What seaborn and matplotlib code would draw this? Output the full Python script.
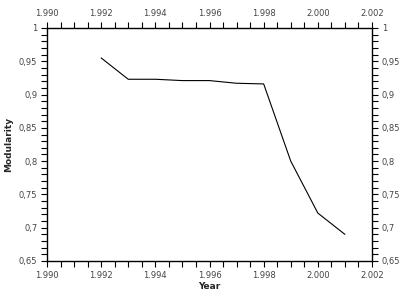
import matplotlib
matplotlib.use("Agg")
import matplotlib.pyplot as plt
import seaborn as sns
import pandas as pd
from matplotlib.ticker import MultipleLocator, FuncFormatter

years = [1992, 1993, 1994, 1995, 1996, 1997, 1998, 1999, 2000, 2001]
modularity = [0.955, 0.923, 0.923, 0.921, 0.921, 0.917, 0.916, 0.800, 0.722, 0.690]

df = pd.DataFrame({"Year": years, "Modularity": modularity})

sns.set_style("ticks")
plt.rcParams['font.family'] = ['DejaVu Sans']

fig = plt.figure(figsize=(4.04, 2.98), dpi=100)
ax = fig.add_axes([47/404, 1-261/298, (372-47)/404, (261-28)/298])
sns.lineplot(data=df, x="Year", y="Modularity", ax=ax, color="black", linewidth=0.8)

ax.set_xlim(1990, 2002)
ax.set_ylim(0.65, 1.0)
ax.xaxis.set_major_locator(MultipleLocator(2))
ax.xaxis.set_minor_locator(MultipleLocator(0.5))
ax.yaxis.set_major_locator(MultipleLocator(0.05))
ax.yaxis.set_minor_locator(MultipleLocator(0.01))
ax.xaxis.set_major_formatter(FuncFormatter(lambda v, p: f"{int(round(v)):,}".replace(",", ".")))
ax.yaxis.set_major_formatter(FuncFormatter(lambda v, p: f"{round(v, 3):g}".replace(".", ",")))

ax.tick_params(which="both", top=True, right=True, labeltop=True, labelright=True,
               direction="out", labelsize=6, labelcolor="#444444", width=0.8, color="black", pad=2.5)
ax.tick_params(which="major", length=4.5)
ax.tick_params(which="minor", length=4)
for s in ax.spines.values():
    s.set_visible(True)
    s.set_linewidth(1.0)
    s.set_color("black")

ax.set_xlabel("Year", fontsize=6.5, fontweight="bold", labelpad=1.5)
ax.set_ylabel("Modularity", fontsize=6.5, fontweight="bold", labelpad=4)

fig.savefig("out.png", dpi=100)
